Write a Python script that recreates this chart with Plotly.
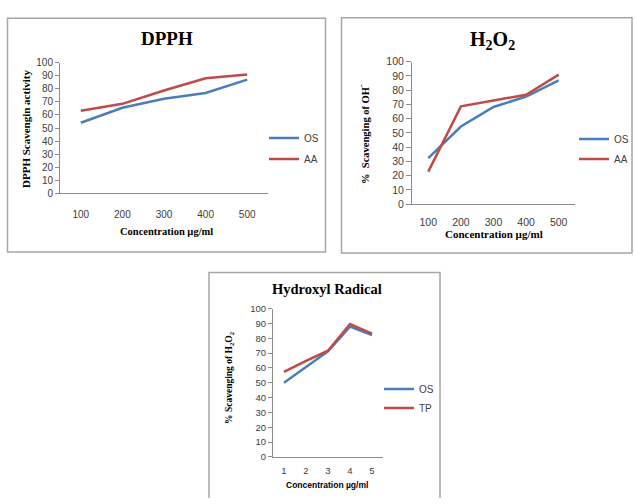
import plotly.graph_objects as go

W, H = 635, 504

# ---- data ----
dpph_conc = ["100", "200", "300", "400", "500"]
dpph_os = [54.0, 65.5, 72.3, 76.8, 87.0]
dpph_aa = [63.2, 68.5, 78.7, 88.0, 91.0]

h2o2_conc = ["100", "200", "300", "400", "500"]
h2o2_os = [32.3, 54.5, 68.2, 75.5, 86.8]
h2o2_aa = [22.8, 68.6, 72.7, 76.8, 90.9]

hyd_conc = ["1", "2", "3", "4", "5"]
hyd_os = [50.1, 60.8, 71.2, 87.9, 82.2]
hyd_tp = [57.3, 64.8, 71.6, 89.6, 83.1]

y_ticks = [0, 10, 20, 30, 40, 50, 60, 70, 80, 90, 100]

BLUE = "#4a7ebb"
RED = "#be4b48"
AXIS = "#8c8c8c"
TICKC = "#404040"
SERIF = "Liberation Serif"
SANS = "Liberation Sans"


def px(x):
    return x / W


def py(y):
    return 1 - y / H


fig = go.Figure()

fig.add_trace(go.Scatter(x=dpph_conc, y=dpph_os, name="OS", mode="lines",
                         line=dict(color=BLUE, width=2.5), xaxis="x", yaxis="y",
                         legend="legend", legendgroup="a"))
fig.add_trace(go.Scatter(x=dpph_conc, y=dpph_aa, name="AA", mode="lines",
                         line=dict(color=RED, width=2.5), xaxis="x", yaxis="y",
                         legend="legend", legendgroup="b"))
fig.add_trace(go.Scatter(x=h2o2_conc, y=h2o2_os, name="OS", mode="lines",
                         line=dict(color=BLUE, width=2.5), xaxis="x2", yaxis="y2",
                         legend="legend2", legendgroup="c"))
fig.add_trace(go.Scatter(x=h2o2_conc, y=h2o2_aa, name="AA", mode="lines",
                         line=dict(color=RED, width=2.5), xaxis="x2", yaxis="y2",
                         legend="legend2", legendgroup="d"))
fig.add_trace(go.Scatter(x=hyd_conc, y=hyd_os, name="OS", mode="lines",
                         line=dict(color=BLUE, width=2.5), xaxis="x3", yaxis="y3",
                         legend="legend3", legendgroup="e"))
fig.add_trace(go.Scatter(x=hyd_conc, y=hyd_tp, name="TP", mode="lines",
                         line=dict(color=RED, width=2.5), xaxis="x3", yaxis="y3",
                         legend="legend3", legendgroup="f"))


def xaxis(dom, anchor, size, standoff):
    return dict(domain=dom, anchor=anchor, type="category", range=[-0.5, 4.5],
                showline=True, linecolor=AXIS, linewidth=1, ticks="",
                showgrid=False, zeroline=False,
                tickfont=dict(family=SANS, size=size, color=TICKC),
                ticklabelstandoff=standoff)


def yaxis(dom, anchor, size, ticklen):
    return dict(domain=dom, anchor=anchor, range=[0, 100], tickvals=y_ticks,
                showline=True, linecolor=AXIS, linewidth=1, ticks="outside",
                ticklen=ticklen, tickcolor=AXIS, showgrid=False, zeroline=False,
                tickfont=dict(family=SANS, size=size, color=TICKC))


fig.update_layout(
    width=W, height=H, margin=dict(l=0, r=0, t=0, b=0),
    paper_bgcolor="white", plot_bgcolor="white",
    xaxis=xaxis([px(60), px(268)], "y", 10, 12),
    yaxis=yaxis([py(192), py(58)], "x", 10, 4),
    xaxis2=xaxis([px(412), px(575)], "y2", 10.5, 8),
    yaxis2=yaxis([py(203), py(57)], "x2", 10.5, 5),
    xaxis3=xaxis([px(273), px(383)], "y3", 9.5, 5),
    yaxis3=yaxis([py(462), py(310)], "x3", 9.5, 4),
)

leg_common = dict(font=dict(family=SANS, size=10, color=TICKC), bgcolor="rgba(0,0,0,0)",
                  xanchor="left", yanchor="middle", traceorder="grouped",
                  itemwidth=30, borderwidth=0)
fig.update_layout(
    legend=dict(x=px(264), y=py(146), tracegroupgap=2, **leg_common),
    legend2=dict(x=px(574), y=py(146.5), tracegroupgap=1, **leg_common),
    legend3=dict(x=px(379), y=py(402), tracegroupgap=0, **leg_common),
)

ann = []


def text(x, y, t, fam, size, angle=0, color="black"):
    ann.append(dict(x=px(x), y=py(y), xref="paper", yref="paper", text=t,
                    showarrow=False, textangle=angle, xanchor="center", yanchor="middle",
                    font=dict(family=fam, size=size, color=color)))


text(167, 33, "<b>DPPH</b>", SERIF, 19)
text(492, 35, "<b>H<sub>2</sub>O<sub>2</sub></b>", SERIF, 20)
text(327, 290, "<b>Hydroxyl Radical</b>", SERIF, 14.5)

text(166, 231, "<b>Concentration µg/ml</b>", SERIF, 10.5)
text(494, 234, "<b>Concentration µg/ml</b>", SERIF, 11)
text(327, 491, "<b>Concentration µg/ml</b>", SANS, 8.5)

text(26, 126, "<b>DPPH Scavengin activity</b>", SERIF, 11, -90)
text(364, 131, "<b>%  Scavenging of OH<sup>-</sup></b>", SERIF, 10.5, -90)
text(230, 381, "<b>% Scavenging of H<sub>2</sub>O<sub>2</sub></b>", SERIF, 9.5, -90)

fig.update_layout(annotations=ann)

BORDER = dict(color="#a6a6a6", width=1.5)
shapes = []
for (x0, y0, x1, y1) in [(7.5, 12.5, 325.5, 252), (341.5, 12, 632, 253)]:
    shapes.append(dict(type="rect", xref="paper", yref="paper",
                       x0=px(x0), x1=px(x1), y0=py(y1), y1=py(y0),
                       line=BORDER, fillcolor="rgba(0,0,0,0)"))
# third panel frame runs off the bottom edge: draw only the visible sides
shapes.append(dict(type="path", xref="paper", yref="paper",
                   path=f"M {px(209)},{py(503.9)} L {px(209)},{py(273)} L {px(440)},{py(273)} L {px(440)},{py(503.9)}",
                   line=BORDER))
fig.update_layout(shapes=shapes)

fig.write_html(
    "out.html", config={"displayModeBar": False},
    post_script=("var g=document.getElementById('{plot_id}');g.style.overflow='hidden';"
                 "document.body.style.margin='0px';document.body.style.overflow='hidden';"
                 "document.documentElement.style.overflow='hidden';"))
